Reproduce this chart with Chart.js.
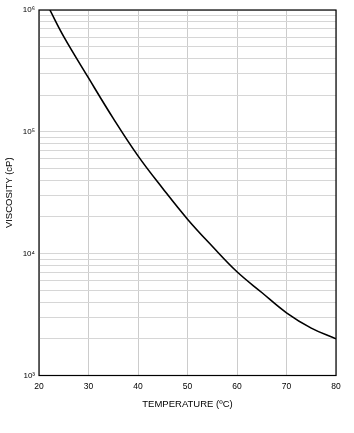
<!DOCTYPE html>
<html>
<head>
<meta charset="utf-8">
<style>
  html, body { margin: 0; padding: 0; background: #fff; }
  #wrap { width: 354px; height: 433px; }
</style>
<script src="https://cdn.jsdelivr.net/npm/chart.js@4/dist/chart.umd.min.js"></script>
</head>
<body>
<div id="wrap"><canvas id="myChart" width="354" height="433"></canvas></div>
<script>
// Viscosity vs temperature
const temperature = [22.2, 25, 30, 35, 40, 45, 50, 55, 60, 65, 70, 75, 80];
const viscosity = [1000000, 605000, 277000, 129000, 63500, 34300, 19200, 11500, 7100, 4800, 3270, 2450, 2000];

const xTicks = [20, 30, 40, 50, 60, 70, 80];
const yTicks = [];
for (let e = 3; e < 6; e++) {
    for (let m = 1; m < 10; m++) yTicks.push(m * Math.pow(10, e));
}
yTicks.push(1000000);
const decadeLabels = { 1000: '10³', 10000: '10⁴', 100000: '10⁵', 1000000: '10⁶' };

const font = 'Liberation Sans, Arial, sans-serif';

// frame round the plot area
const frame = {
    id: 'frame',
    afterDatasetsDraw(chart) {
        const { ctx, chartArea: a } = chart;
        ctx.save();
        ctx.strokeStyle = '#000';
        ctx.lineWidth = 1.2;
        ctx.strokeRect(a.left, a.top, a.right - a.left, a.bottom - a.top);
        ctx.restore();
    }
};

const ctx = document.getElementById('myChart').getContext('2d');
new Chart(ctx, {
    type: 'line',
    data: {
        datasets: [{
            data: temperature.map((t, i) => ({ x: t, y: viscosity[i] })),
            borderColor: '#000',
            borderWidth: 1.6,
            pointRadius: 0,
            tension: 0.4,
            fill: false
        }]
    },
    options: {
        responsive: false,
        animation: false,
        layout: { padding: { left: 0, right: 18, top: 10, bottom: 0 } },
        plugins: { legend: { display: false }, tooltip: { enabled: false } },
        scales: {
            x: {
                type: 'linear',
                min: 20, max: 80,
                afterBuildTicks: s => { s.ticks = xTicks.map(v => ({ value: v })); },
                afterFit: s => { s.height = 57.5; },
                grid: { color: '#cccccc', lineWidth: 1, drawTicks: false },
                border: { display: false },
                ticks: { color: '#000', padding: 6, font: { family: font, size: 8.5 }, maxRotation: 0 },
                title: {
                    display: true, text: 'TEMPERATURE (ºC)', color: '#000',
                    font: { family: font, size: 9.5 }, padding: { top: 0, bottom: 22.5 }
                }
            },
            y: {
                type: 'logarithmic',
                min: 1000, max: 1000000,
                afterBuildTicks: s => { s.ticks = yTicks.map(v => ({ value: v })); },
                afterFit: s => { s.width = 39; },
                grid: { color: '#d6d6d6', lineWidth: 1, drawTicks: false },
                border: { display: false },
                ticks: {
                    color: '#000', padding: 4, autoSkip: false,
                    font: { family: font, size: 8 },
                    callback: v => decadeLabels[v] || ''
                },
                title: {
                    display: true, text: 'VISCOSITY (cP)', color: '#000',
                    font: { family: font, size: 9.5 }, padding: { top: 3.5, bottom: 0 }
                }
            }
        }
    },
    plugins: [frame]
});
</script>
</body>
</html>
